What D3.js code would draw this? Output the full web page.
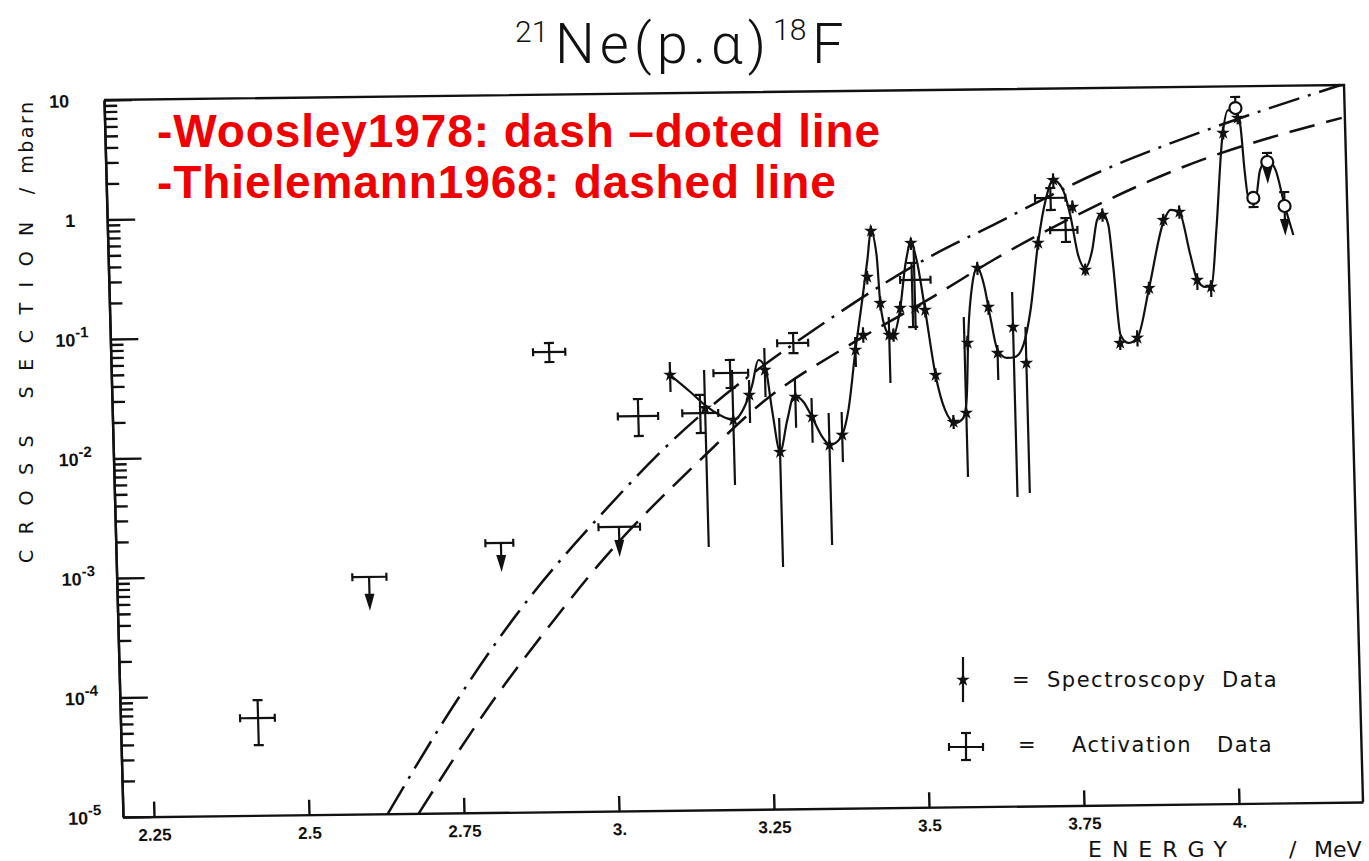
<!DOCTYPE html>
<html>
<head>
<meta charset="utf-8">
<script src="https://cdn.jsdelivr.net/npm/d3@7"></script>
<style>
  body { margin: 0; background: #fff; }
  text { fill: #111; }
</style>
</head>
<body>
<div id="chart"></div>
<script>
//axis ticks
var xTicks = [2.25, 2.5, 2.75, 3.0, 3.25, 3.5, 3.75, 4.0];
var xTickLabels = ["2.25", "2.5", "2.75", "3.", "3.25", "3.5", "3.75", "4."];
var yDecades = [1e-5, 1e-4, 1e-3, 1e-2, 1e-1, 1, 10];
var yTickBase = ["10", "10", "10", "10", "10", "1", "10"];
var yTickExp = ["-5", "-4", "-3", "-2", "-1", "", ""];

//Woosley 1978, dash-dotted (E in MeV, sigma in mbarn)
var woosleyE = [2.627, 2.733, 2.840, 2.994, 3.086, 3.366, 3.530, 3.628, 3.798, 3.977, 4.195];
var woosleyS = [1e-5, 7.28e-5, 4.29e-4, 3.44e-3, 0.01038, 0.1291, 0.416, 0.731, 1.945, 4.345, 10];

//Thielemann, dashed
var thielE = [2.677, 2.793, 2.910, 2.980, 3.151, 3.250, 3.397, 3.528, 3.627, 3.764, 3.937, 4.195];
var thielS = [1e-5, 7.5e-5, 4.43e-4, 1.19e-3, 8.97e-3, 0.0256, 0.0780, 0.1858, 0.373, 0.869, 2.138, 5.31];

//spectroscopy data (stars) with vertical error bars
var specE = [3.101, 3.156, 3.201, 3.228, 3.254, 3.275, 3.302, 3.328, 3.355, 3.376,
             3.401, 3.414, 3.423, 3.431, 3.443, 3.456, 3.463, 3.475, 3.495, 3.499,
             3.515, 3.529, 3.556, 3.577, 3.582, 3.601, 3.617, 3.630, 3.656, 3.676,
             3.700, 3.727, 3.757, 3.775, 3.805, 3.828, 3.856, 3.877, 3.903, 3.929,
             3.955, 3.977, 4.003, 4.027];
var specS = [0.0439, 0.0230, 0.0182, 0.0293, 0.0473, 0.0097, 0.0279, 0.0189, 0.0110, 0.0133,
             0.0681, 0.0906, 0.277, 0.671, 0.167, 0.0902, 0.0900, 0.151, 0.527, 0.151,
             0.1445, 0.0412, 0.0166, 0.0197, 0.0759, 0.321, 0.151, 0.0621, 0.102, 0.0508,
             0.512, 1.714, 1.016, 0.301, 0.865, 0.0731, 0.0804, 0.209, 0.774, 0.900,
             0.2415, 0.211, 4.08, 5.43];
var specLo = [0.0316, 0.00158, 0.00519, 0.0171, 0.0281, 0.00106, 0.0154, 0.0115, 0.0016, 0.00789,
              0.0490, 0.078, 0.24, 0.60, 0.145, 0.0357, 0.079, 0.132, 0.46, 0.0986,
              0.125, 0.036, 0.0145, 0.00574, 0.066, 0.28, 0.13, 0.0369, 0.00386, 0.00415,
              0.45, 1.5, 0.9, 0.27, 0.76, 0.064, 0.068, 0.185, 0.69, 0.79,
              0.1995, 0.174, 3.6, 4.8];
var specHi = [0.0564, 0.0479, 0.0476, 0.0391, 0.0723, 0.0187, 0.0402, 0.0272, 0.0203, 0.0207,
              0.0873, 0.105, 0.31, 0.74, 0.19, 0.1274, 0.102, 0.172, 0.581, 0.461,
              0.165, 0.047, 0.019, 0.1253, 0.087, 0.36, 0.17, 0.0724, 0.2005, 0.1016,
              0.58, 1.95, 1.15, 0.34, 0.98, 0.083, 0.093, 0.235, 0.87, 1.02,
              0.275, 0.24, 4.6, 6.1];

//hand drawn fit through the spectroscopy data
var fitE = [3.101, 3.133, 3.156, 3.180, 3.201, 3.221, 3.233, 3.244, 3.255, 3.264,
            3.275, 3.288, 3.300, 3.315, 3.328, 3.344, 3.356, 3.373, 3.387, 3.401,
            3.414, 3.424, 3.431, 3.439, 3.443, 3.451, 3.461, 3.475, 3.485, 3.495,
            3.504, 3.515, 3.529, 3.543, 3.559, 3.572, 3.578, 3.584, 3.592, 3.601,
            3.611, 3.620, 3.630, 3.645, 3.658, 3.672, 3.685, 3.700, 3.714, 3.727,
            3.741, 3.753, 3.764, 3.775, 3.787, 3.796, 3.805, 3.814, 3.820, 3.829,
            3.841, 3.856, 3.877, 3.903, 3.915, 3.929, 3.945, 3.955, 3.968, 3.978,
            3.988, 4.001, 4.012, 4.024, 4.031, 4.036, 4.041, 4.052, 4.061, 4.073,
            4.086, 4.099, 4.112];
var fitS = [0.0439, 0.0315, 0.0244, 0.0200, 0.0182, 0.0242, 0.0356, 0.0574, 0.0491, 0.0218,
            0.0097, 0.0179, 0.0284, 0.0253, 0.0189, 0.0128, 0.0110, 0.0125, 0.0214, 0.0681,
            0.178, 0.384, 0.671, 0.422, 0.167, 0.0993, 0.0865, 0.151, 0.346, 0.527,
            0.365, 0.1445, 0.0412, 0.0209, 0.0163, 0.0179, 0.0253, 0.0973, 0.232, 0.321,
            0.231, 0.122, 0.0658, 0.0564, 0.0573, 0.0721, 0.141, 0.512, 1.17, 1.714,
            1.469, 0.873, 0.403, 0.313, 0.442, 0.785, 0.900, 0.713, 0.329, 0.0853,
            0.0731, 0.0804, 0.209, 0.745, 0.938, 0.900, 0.392, 0.2415, 0.211, 0.219,
            0.631, 3.56, 6.34, 6.09, 4.74, 1.99, 1.161, 1.114, 1.98, 2.40,
            1.98, 1.005, 0.563];

//activation data (crosses)
var actE = [2.422, 2.907, 3.048, 3.148, 3.198, 3.301, 3.495, 3.722, 3.745];
var actS = [6.52e-5, 0.0703, 0.0200, 0.0209, 0.0450, 0.0789, 0.259, 1.216, 0.653];
var actELo = [2.393, 2.881, 3.015, 3.119, 3.171, 3.275, 3.476, 3.697, 3.720];
var actEHi = [2.449, 2.933, 3.080, 3.177, 3.227, 3.325, 3.525, 3.746, 3.764];
var actSLo = [3.87e-5, 0.0579, 0.01364, 0.01426, 0.0337, 0.0650, 0.1045, 0.964, 0.519];
var actSHi = [9.2e-5, 0.0836, 0.0278, 0.0297, 0.0578, 0.0957, 0.359, 1.472, 0.822];

//activation upper limits (T with arrow)
var limE = [2.607, 2.821, 3.012];
var limS = [9.62e-4, 1.795e-3, 2.377e-3];
var limELo = [2.580, 2.796, 2.979];
var limEHi = [2.635, 2.841, 3.046];
var limTip = [5.4e-4, 1.107e-3, 1.44e-3];

//open circles near 4 MeV
var circE = [4.024, 4.049, 4.073, 4.099];
var circS = [6.58, 1.159, 2.31, 0.986];
var circBar = [8.15, 0.973, 2.75, 1.29];
var circArrow = [null, null, 1.63, 0.598];


//svg and plot size
var svgWidth = 1369;
var svgHeight = 861;
var width = 1240;
var height = 717;

var svg = d3.select("#chart")
  .append("svg")
  .attr("width", svgWidth)
  .attr("height", svgHeight);

//scales, y runs upward from the bottom left corner
var x = d3.scaleLinear().domain([2.2, 4.2]).range([0, width]);
var y = d3.scaleLog().domain([1e-5, 10]).range([0, -height]);

//the scanned page sits a bit crooked, so the plot group is sheared a little
var plot = svg.append("g")
  .attr("transform", "matrix(1,-0.0121,0.0265,1,123,817)");

var ink = "#111";

//frame top and right
plot.append("path")
  .attr("d", "M0," + (-height) + "H" + width + "V0")
  .attr("fill", "none")
  .attr("stroke", ink)
  .attr("stroke-width", 2.4);

//x axis, ticks pointing up
var xAxis = plot.append("g")
  .call(d3.axisBottom(x)
    .tickValues(xTicks)
    .tickFormat(function(d, i) { return xTickLabels[i]; })
    .tickSizeInner(-15)
    .tickSizeOuter(0)
    .tickPadding(12));
xAxis.selectAll("text")
  .attr("font-family", "Liberation Sans, Arial, sans-serif")
  .attr("font-weight", "bold")
  .attr("font-size", 17)
  .attr("fill", ink);

//y axis, major and minor log ticks pointing right
var minorTicks = [];
yDecades.slice(0, -1).forEach(function(d) {
  for (var k = 2; k <= 9; k++) minorTicks.push(d * k);
});

plot.append("g")
  .call(d3.axisLeft(y).tickValues(minorTicks).tickFormat("").tickSizeInner(-13).tickSizeOuter(0));
plot.append("g")
  .call(d3.axisLeft(y).tickValues(yDecades).tickFormat("").tickSizeInner(-28).tickSizeOuter(0));
plot.selectAll("path.domain, .tick line").attr("stroke", ink).attr("stroke-width", 2.4);

//y labels as 10 with a raised exponent
var yLabels = plot.append("g")
  .attr("font-family", "Liberation Sans, Arial, sans-serif")
  .attr("font-weight", "bold")
  .attr("fill", ink);

yDecades.forEach(function(d, i) {
  var t = yLabels.append("text")
    .attr("x", yTickBase[i] === "1" ? -42 : -55)
    .attr("y", y(d) + 7)
    .attr("font-size", 18);
  t.append("tspan").text(yTickBase[i]);
  if (yTickExp[i] !== "") {
    t.append("tspan").attr("dy", -9).attr("font-size", 15).text(yTickExp[i]);
  }
});

//theory curves
var curveLine = d3.line()
  .x(function(d) { return x(d[0]); })
  .y(function(d) { return y(d[1]); })
  .curve(d3.curveMonotoneX);

plot.append("path")
  .datum(d3.zip(woosleyE, woosleyS))
  .attr("d", curveLine)
  .attr("fill", "none")
  .attr("stroke", ink)
  .attr("stroke-width", 2.5)
  .attr("stroke-dasharray", "32,9,3,9");

plot.append("path")
  .datum(d3.zip(thielE, thielS))
  .attr("d", curveLine)
  .attr("fill", "none")
  .attr("stroke", ink)
  .attr("stroke-width", 2.5)
  .attr("stroke-dasharray", "26,12");

//fit through the resonances
plot.append("path")
  .datum(d3.zip(fitE, fitS))
  .attr("d", curveLine)
  .attr("fill", "none")
  .attr("stroke", ink)
  .attr("stroke-width", 2.2);

//spectroscopy error bars and stars
var spec = d3.range(specE.length);
plot.selectAll(".specBar")
  .data(spec)
  .enter()
  .append("line")
  .attr("x1", function(i) { return x(specE[i]); })
  .attr("x2", function(i) { return x(specE[i]); })
  .attr("y1", function(i) { return y(specLo[i]); })
  .attr("y2", function(i) { return y(specHi[i]); })
  .attr("stroke", ink)
  .attr("stroke-width", 2.2);

var star = d3.symbol().type(d3.symbolStar).size(58);
plot.selectAll(".specStar")
  .data(spec)
  .enter()
  .append("path")
  .attr("d", star)
  .attr("transform", function(i) { return "translate(" + x(specE[i]) + "," + y(specS[i]) + ")"; })
  .attr("fill", ink);

//draws a bar with small end caps
function capBar(g, x1, y1, x2, y2, cap) {
  g.append("line").attr("x1", x1).attr("y1", y1).attr("x2", x2).attr("y2", y2);
  if (x1 === x2) {
    g.append("line").attr("x1", x1 - cap).attr("x2", x1 + cap).attr("y1", y1).attr("y2", y1);
    g.append("line").attr("x1", x2 - cap).attr("x2", x2 + cap).attr("y1", y2).attr("y2", y2);
  } else {
    g.append("line").attr("x1", x1).attr("x2", x1).attr("y1", y1 - cap).attr("y2", y1 + cap);
    g.append("line").attr("x1", x2).attr("x2", x2).attr("y1", y2 - cap).attr("y2", y2 + cap);
  }
}

//small downward arrow
function arrowDown(g, xp, y0, y1) {
  g.append("line").attr("x1", xp).attr("x2", xp).attr("y1", y0).attr("y2", y1 - 8);
  g.append("path")
    .attr("d", "M" + (xp - 3.5) + "," + (y1 - 12) + "L" + (xp + 3.5) + "," + (y1 - 12) + "L" + xp + "," + y1 + "Z")
    .attr("fill", ink);
}

//activation crosses
var act = plot.append("g").attr("stroke", ink).attr("stroke-width", 2.2);
actE.forEach(function(e, i) {
  var g = act.append("g");
  capBar(g, x(actELo[i]), y(actS[i]), x(actEHi[i]), y(actS[i]), 4);
  capBar(g, x(e), y(actSHi[i]), x(e), y(actSLo[i]), 5);
});

//upper limits
limE.forEach(function(e, i) {
  var g = act.append("g");
  capBar(g, x(limELo[i]), y(limS[i]), x(limEHi[i]), y(limS[i]), 4);
  arrowDown(g, x(e), y(limS[i]), y(limTip[i]));
});

//open circles with bars and arrows
circE.forEach(function(e, i) {
  var g = act.append("g");
  capBar(g, x(e), y(circS[i]), x(e), y(circBar[i]), 5);
  if (circArrow[i] !== null) arrowDown(g, x(e), y(circS[i]), y(circArrow[i]));
  g.append("circle")
    .attr("cx", x(e))
    .attr("cy", y(circS[i]))
    .attr("r", 6)
    .attr("fill", "#fff");
});

//axis titles
var plotFont = "DejaVu Sans, Verdana, sans-serif";

var yTitle = svg.append("text")
  .attr("transform", "translate(33,563) rotate(-90)")
  .attr("font-family", plotFont)
  .attr("font-size", 19);
yTitle.append("tspan").attr("letter-spacing", 15.5).text("CROSS SECTION");
yTitle.append("tspan").attr("dx", 12).text("/");
yTitle.append("tspan").attr("dx", 14).attr("letter-spacing", 2.5).text("mbarn");

var xTitle = svg.append("text")
  .attr("x", 1088)
  .attr("y", 857)
  .attr("font-family", plotFont)
  .attr("font-size", 22);
xTitle.append("tspan").attr("letter-spacing", 10).text("ENERGY");
xTitle.append("tspan").attr("x", 1289).text("/");
xTitle.append("tspan").attr("x", 1314).text("MeV");

//title
var title = svg.append("text")
  .attr("font-family", "Roboto, DejaVu Sans, sans-serif")
  .attr("font-weight", 300)
  .attr("fill", ink);
title.append("tspan").attr("x", 515).attr("y", 42).attr("font-size", 30).text("21");
title.append("tspan").attr("x", 555).attr("y", 63).attr("font-size", 56).attr("letter-spacing", 5).text("Ne(p.\u03b1)");
title.append("tspan").attr("x", 773).attr("y", 40).attr("font-size", 30).text("18");
title.append("tspan").attr("x", 812).attr("y", 63).attr("font-size", 56).text("F");

//legend
var legend = svg.append("g");
legend.append("line")
  .attr("x1", 963).attr("x2", 963).attr("y1", 657).attr("y2", 702)
  .attr("stroke", ink).attr("stroke-width", 2.2);
legend.append("path")
  .attr("d", star)
  .attr("transform", "translate(963,680)")
  .attr("fill", ink);
var legCross = legend.append("g").attr("stroke", ink).attr("stroke-width", 2.2);
capBar(legCross, 949, 747, 983, 747, 4);
capBar(legCross, 966, 733, 966, 760, 5);

var legText = legend.append("g")
  .attr("font-family", plotFont)
  .attr("font-size", 21)
  .attr("fill", ink);
var l1 = legText.append("text").attr("y", 687);
l1.append("tspan").attr("x", 1012).text("=");
l1.append("tspan").attr("x", 1047).attr("letter-spacing", 1.5).text("Spectroscopy");
l1.append("tspan").attr("x", 1222).attr("letter-spacing", 1.5).text("Data");
var l2 = legText.append("text").attr("y", 752);
l2.append("tspan").attr("x", 1018).text("=");
l2.append("tspan").attr("x", 1072).attr("letter-spacing", 1.5).text("Activation");
l2.append("tspan").attr("x", 1217).attr("letter-spacing", 1.5).text("Data");

//red notes on top
var notes = svg.append("g")
  .attr("font-family", "Liberation Sans, Arial, sans-serif")
  .attr("font-weight", "bold")
  .attr("font-size", 46)
  .attr("letter-spacing", 0.9);
notes.append("text").attr("x", 157).attr("y", 147).style("fill", "#f00000")
  .text("-Woosley1978: dash \u2013doted line");
notes.append("text").attr("x", 157).attr("y", 198).style("fill", "#f00000")
  .text("-Thielemann1968: dashed line");
</script>
</body>
</html>
